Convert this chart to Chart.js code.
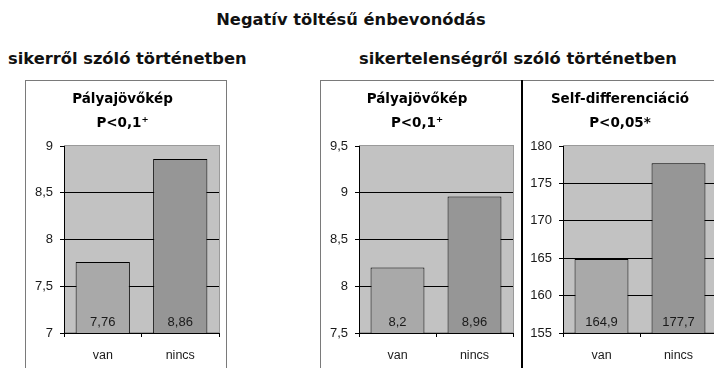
<!DOCTYPE html>
<html lang="hu">
<head>
<meta charset="utf-8">
<title>Negatív töltésű énbevonódás</title>
<script src="https://cdn.jsdelivr.net/npm/chart.js@4/dist/chart.umd.min.js"></script>
<style>
  html, body { margin: 0; padding: 0; }
  body {
    position: relative;
    width: 714px;
    height: 368px;
    overflow: hidden;
    background: #ffffff;
    font-family: "DejaVu Sans", sans-serif;
    color: #111;
  }
  .head {
    position: absolute;
    font-weight: bold;
    font-size: 16.3px;
    line-height: 20px;
    white-space: nowrap;
  }
  .panel {
    position: absolute;
    top: 80px;
    height: 320px;
    border: 1px solid #7a7a7a;
    box-sizing: border-box;
  }
  .divider {
    position: absolute;
    top: 80px;
    left: 521px;
    width: 2px;
    height: 300px;
    background: #000;
  }
  canvas { position: absolute; top: 81px; }
</style>
</head>
<body>
  <div class="head" style="left:0; width:702px; top:10px; text-align:center;">Negatív töltésű énbevonódás</div>
  <div class="head" style="left:8px; top:49px;">sikerről szóló történetben</div>
  <div class="head" style="left:359px; top:49px;">sikertelenségről szóló történetben</div>

  <div class="panel" style="left:25px; width:202px;"></div>
  <div class="panel" style="left:320px; width:500px;"></div>
  <div class="divider"></div>

  <canvas id="c1" width="200" height="287" style="left:26px;"></canvas>
  <canvas id="c2" width="200" height="287" style="left:321px;"></canvas>
  <canvas id="c3" width="201" height="287" style="left:523px;"></canvas>

<script>
// Group labels on the category axis
const categories = ['van', 'nincs'];

// Group means
const careerSuccessValues = [7.76, 8.86];       // Pályajövőkép, sikerről szóló történet
const careerFailureValues = [8.2, 8.96];        // Pályajövőkép, sikertelenségről szóló történet
const selfDiffFailureValues = [164.9, 177.7];   // Self-differenciáció, sikertelenségről szóló történet

// Panel titles
const careerSuccessTitle = ['Pályajövőkép', 'P<0,1⁺'];
const careerFailureTitle = ['Pályajövőkép', 'P<0,1⁺'];
const selfDiffFailureTitle = ['Self-differenciáció', 'P<0,05*'];

// Value axis ranges: [min, max, step]
const careerSuccessRange = [7, 9, 0.5];
const careerFailureRange = [7.5, 9.5, 0.5];
const selfDiffFailureRange = [155, 180, 5];

const barColors = ['#a9a9a9', '#969696'];
const tickFont = { family: 'Liberation Sans', size: 13 };
const toComma = v => String(v).replace('.', ',');

// Grey plot-area fill behind grid and bars
const plotBackground = {
  id: 'plotBackground',
  beforeDraw(chart) {
    const { ctx, chartArea: a } = chart;
    ctx.save();
    ctx.fillStyle = '#c2c2c2';
    ctx.fillRect(a.left, a.top, a.right - a.left, a.bottom - a.top);
    ctx.strokeStyle = '#9a9a9a';
    ctx.lineWidth = 1;
    ctx.strokeRect(Math.round(a.left) + 0.5, Math.round(a.top) - 0.5, a.right - a.left, a.bottom - a.top);
    ctx.restore();
  }
};

// Values written at the foot of each bar
const valueLabels = {
  id: 'valueLabels',
  afterDatasetsDraw(chart) {
    const { ctx, chartArea } = chart;
    ctx.save();
    ctx.font = '13px "Liberation Sans"';
    ctx.fillStyle = '#1a1a1a';
    ctx.textAlign = 'center';
    ctx.textBaseline = 'middle';
    chart.data.datasets.forEach((ds, di) => {
      chart.getDatasetMeta(di).data.forEach((bar, i) => {
        ctx.fillText(toComma(ds.data[i]), bar.x, chartArea.bottom - 11);
      });
    });
    ctx.restore();
  }
};

function makeChart(id, values, title, range, axisWidth, padRight) {
  const [yMin, yMax, yStep] = range;
  return new Chart(document.getElementById(id), {
    type: 'bar',
    data: {
      labels: categories,
      datasets: [{
        data: values,
        backgroundColor: barColors,
        borderColor: '#000',
        borderWidth: 1,
        borderSkipped: false,
        barPercentage: 0.7,
        categoryPercentage: 1.0
      }]
    },
    options: {
      responsive: false,
      animation: false,
      devicePixelRatio: 1,
      layout: { padding: { left: 0, right: padRight, top: 0, bottom: 0 } },
      plugins: {
        legend: { display: false },
        tooltip: { enabled: false },
        title: {
          display: true,
          text: title,
          color: '#000',
          font: { family: 'DejaVu Sans', size: 13.5, weight: 'bold', lineHeight: '24px' },
          padding: { top: 6, bottom: 11 }
        }
      },
      scales: {
        x: {
          grid: { display: true, drawOnChartArea: false, drawTicks: true, tickLength: 4, tickColor: '#000', offset: true },
          border: { display: true, color: '#000', width: 1 },
          ticks: { color: '#1a1a1a', font: { family: 'Liberation Sans', size: 12.5 }, padding: 11, maxRotation: 0 },
          afterFit(s) { s.height = 35; }
        },
        y: {
          min: yMin,
          max: yMax,
          grid: {
            color: c => (c.tick && c.tick.value === yMax) ? 'rgba(0,0,0,0)' : '#000',
            tickColor: '#000',
            tickLength: 4,
            lineWidth: 1
          },
          border: { display: true, color: '#000', width: 1 },
          ticks: {
            stepSize: yStep,
            color: '#1a1a1a',
            font: tickFont,
            padding: 7,
            callback: v => toComma(v)
          },
          afterFit(s) { s.width = axisWidth; }
        }
      }
    },
    plugins: [plotBackground, valueLabels]
  });
}

makeChart('c1', careerSuccessValues, careerSuccessTitle, careerSuccessRange, 38, 7);
makeChart('c2', careerFailureValues, careerFailureTitle, careerFailureRange, 38, 8);
makeChart('c3', selfDiffFailureValues, selfDiffFailureTitle, selfDiffFailureRange, 40, 7);
</script>
</body>
</html>
